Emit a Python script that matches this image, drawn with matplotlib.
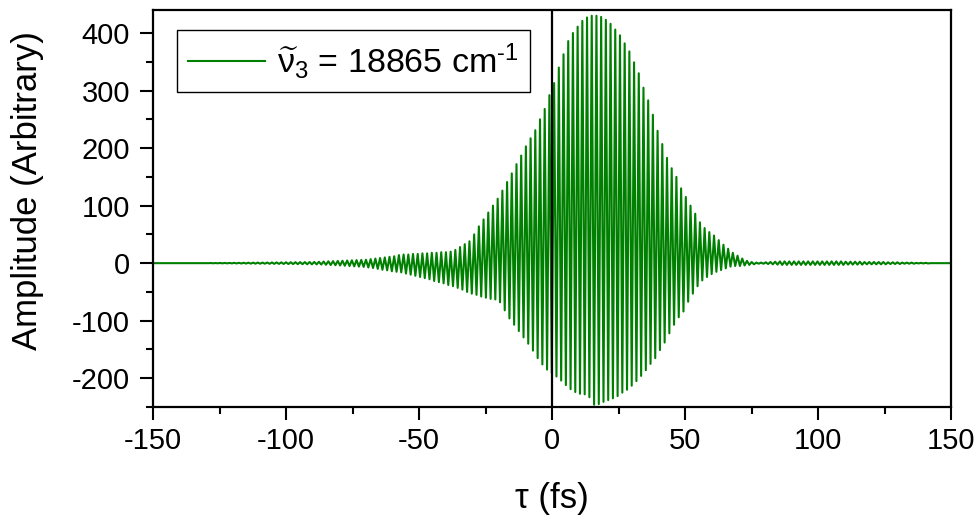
import numpy as np
import matplotlib
matplotlib.use('Agg')
import matplotlib.pyplot as plt
from matplotlib.ticker import MultipleLocator

plt.rcParams['font.family'] = ['Liberation Sans', 'DejaVu Sans']
plt.rcParams['mathtext.fontset'] = 'custom'
plt.rcParams['mathtext.rm'] = 'Liberation Sans'
plt.rcParams['mathtext.it'] = 'Liberation Sans'
plt.rcParams['mathtext.bf'] = 'Liberation Sans:bold'

# ---- data ----
wavenumber = 18865                                    # cm^-1 (legend)
period_fs = 1e15 / (wavenumber * 2.99792458e10)       # carrier period, fs
first_peak_fs = -149.5

# amplitude of each successive positive extremum (one per carrier cycle)
peak_values = [
    0, 0, 0, 0, 0, 0, 0, 0, 0, 0, 0, 0,
    0.2, 0.2, 0.3, 0.4, 0.4,
    0.5, 0.6, 0.7, 0.8, 0.9,
    1.0, 1.0, 1.1, 1.2, 1.3,
    1.4, 1.5, 1.6, 1.7, 1.8,
    1.9, 2.0, 2.1, 2.4, 2.8,
    3.2, 3.5, 3.9, 4.2, 4.6,
    5.0, 5.3, 5.6, 6, 7,
    8, 9, 10, 11, 12,
    14, 15, 15, 16, 16,
    17, 17, 18, 18, 19,
    19, 20, 23, 28, 33,
    38, 50, 64, 76, 88,
    100, 112, 126, 141, 156,
    172, 187, 203, 217, 231,
    250, 268, 292, 313, 340,
    363, 386, 400, 411, 421,
    427, 430, 430, 428, 423,
    416, 406, 396, 382, 368,
    349, 330, 305, 283, 258,
    230, 207, 183, 165, 150,
    130, 115, 100, 86, 71,
    61, 54, 48, 40, 32,
    25, 18, 13, 8, 4,
    2, 1, 1, 1.5, 2,
    2.5, 3, 3, 3, 3,
    3, 3, 3, 3, 3,
    3, 3, 3, 3, 3,
    2.5, 2.5, 2.5, 2.5, 2,
    2, 2, 2, 2, 1.5,
    1.5, 1.5, 1, 1, 1,
    0.5, 0.5, 0.5, 0, 0,
    0, 0, 0,
]

# amplitude of each successive negative extremum (half a cycle later)
trough_values = [
    0, 0, 0, 0, 0, 0, 0, 0, 0, 0, 0, 0,
    -0.2, -0.2, -0.3, -0.4, -0.4,
    -0.5, -0.6, -0.7, -0.8, -0.9,
    -1.0, -1.0, -1.1, -1.2, -1.3,
    -1.4, -1.5, -1.6, -1.7, -1.8,
    -1.9, -2.0, -2.1, -2.4, -2.8,
    -3.2, -3.6, -4.0, -4.5, -5.0,
    -5.5, -6.0, -6.5, -7.5, -8.5,
    -10, -11.5, -12.5, -14, -15,
    -16, -18, -20, -22, -24,
    -26, -28, -31, -33, -35,
    -38, -40, -43, -46, -50,
    -53, -55, -58, -60, -62,
    -63, -68, -82, -96, -107,
    -118, -129, -140, -152, -165,
    -176, -185, -191, -197, -204,
    -212, -219, -224, -227, -228,
    -233, -246, -245, -241, -238,
    -235, -231, -225, -220, -213,
    -205, -196, -186, -175, -165,
    -151, -138, -122, -107, -94,
    -84, -67, -53, -40, -30,
    -24, -19, -15, -12, -9,
    -6, -5, -5, -4, -3,
    -2, -1, -1, -1.5, -2,
    -2.5, -3, -3, -3, -3,
    -3, -3, -3, -3, -3,
    -3, -3, -3, -3, -3,
    -2.5, -2.5, -2.5, -2.5, -2,
    -2, -2, -2, -2, -1.5,
    -1.5, -1.5, -1, -1, -1,
    -0.5, -0.5, -0.5, 0, 0,
    0, 0, 0,
]

x_ticks = [-150, -100, -50, 0, 50, 100, 150]
y_ticks = [-200, -100, 0, 100, 200, 300, 400]
legend_label = r'$\widetilde{\nu}_{3}$ = 18865 cm$^{\text{-1}}$'

# ---- build the trace: alternating extrema at half-period spacing ----
n = len(peak_values)
peak_t = first_peak_fs + period_fs * np.arange(n)
trough_t = peak_t + period_fs / 2
t = np.empty(2 * n)
a = np.empty(2 * n)
t[0::2], t[1::2] = peak_t, trough_t
a[0::2], a[1::2] = peak_values, trough_values
t = np.concatenate([[-150.0], t])
a = np.concatenate([[0.0], a])

# ---- figure ----
W, H = 980, 519
fig = plt.figure(figsize=(W / 100, H / 100), dpi=100)
ax = fig.add_axes([153 / W, 1 - 407 / H, 798 / W, 397 / H])

ax.plot(t, a, color='#008000', lw=1.5, label=legend_label, zorder=2)
ax.axvline(0, color='black', lw=1.6, zorder=3)

ax.set_xlim(-150, 150)
ax.set_ylim(-250, 440)
ax.set_xticks(x_ticks)
ax.set_xticklabels([str(v) for v in x_ticks])
ax.set_yticks(y_ticks)
ax.set_yticklabels([str(v) for v in y_ticks])
ax.xaxis.set_minor_locator(MultipleLocator(25))
ax.yaxis.set_minor_locator(MultipleLocator(50))
ax.tick_params(which='major', direction='out', length=9.5, width=1.5,
               labelsize=21, top=False, right=False)
ax.tick_params(axis='x', which='major', pad=5)
ax.tick_params(axis='y', which='major', pad=7)
ax.tick_params(which='minor', direction='out', length=5, width=1.5,
               top=False, right=False)
for s in ax.spines.values():
    s.set_linewidth(1.6)

ax.set_xlabel('τ (fs)', fontsize=25)
ax.set_ylabel('Amplitude (Arbitrary)', fontsize=25)
ax.xaxis.set_label_coords(0.5, -0.19)
ax.yaxis.set_label_coords(-0.137, 0.544)

leg = ax.legend(loc='upper left', bbox_to_anchor=(0.030, 0.95), borderaxespad=0,
                fontsize=24.5, frameon=True, fancybox=False, edgecolor='black',
                framealpha=1, handlelength=2.25, handletextpad=0.35, borderpad=0.33)
leg.get_frame().set_linewidth(1.0)

fig.savefig('out.png', dpi=100)
